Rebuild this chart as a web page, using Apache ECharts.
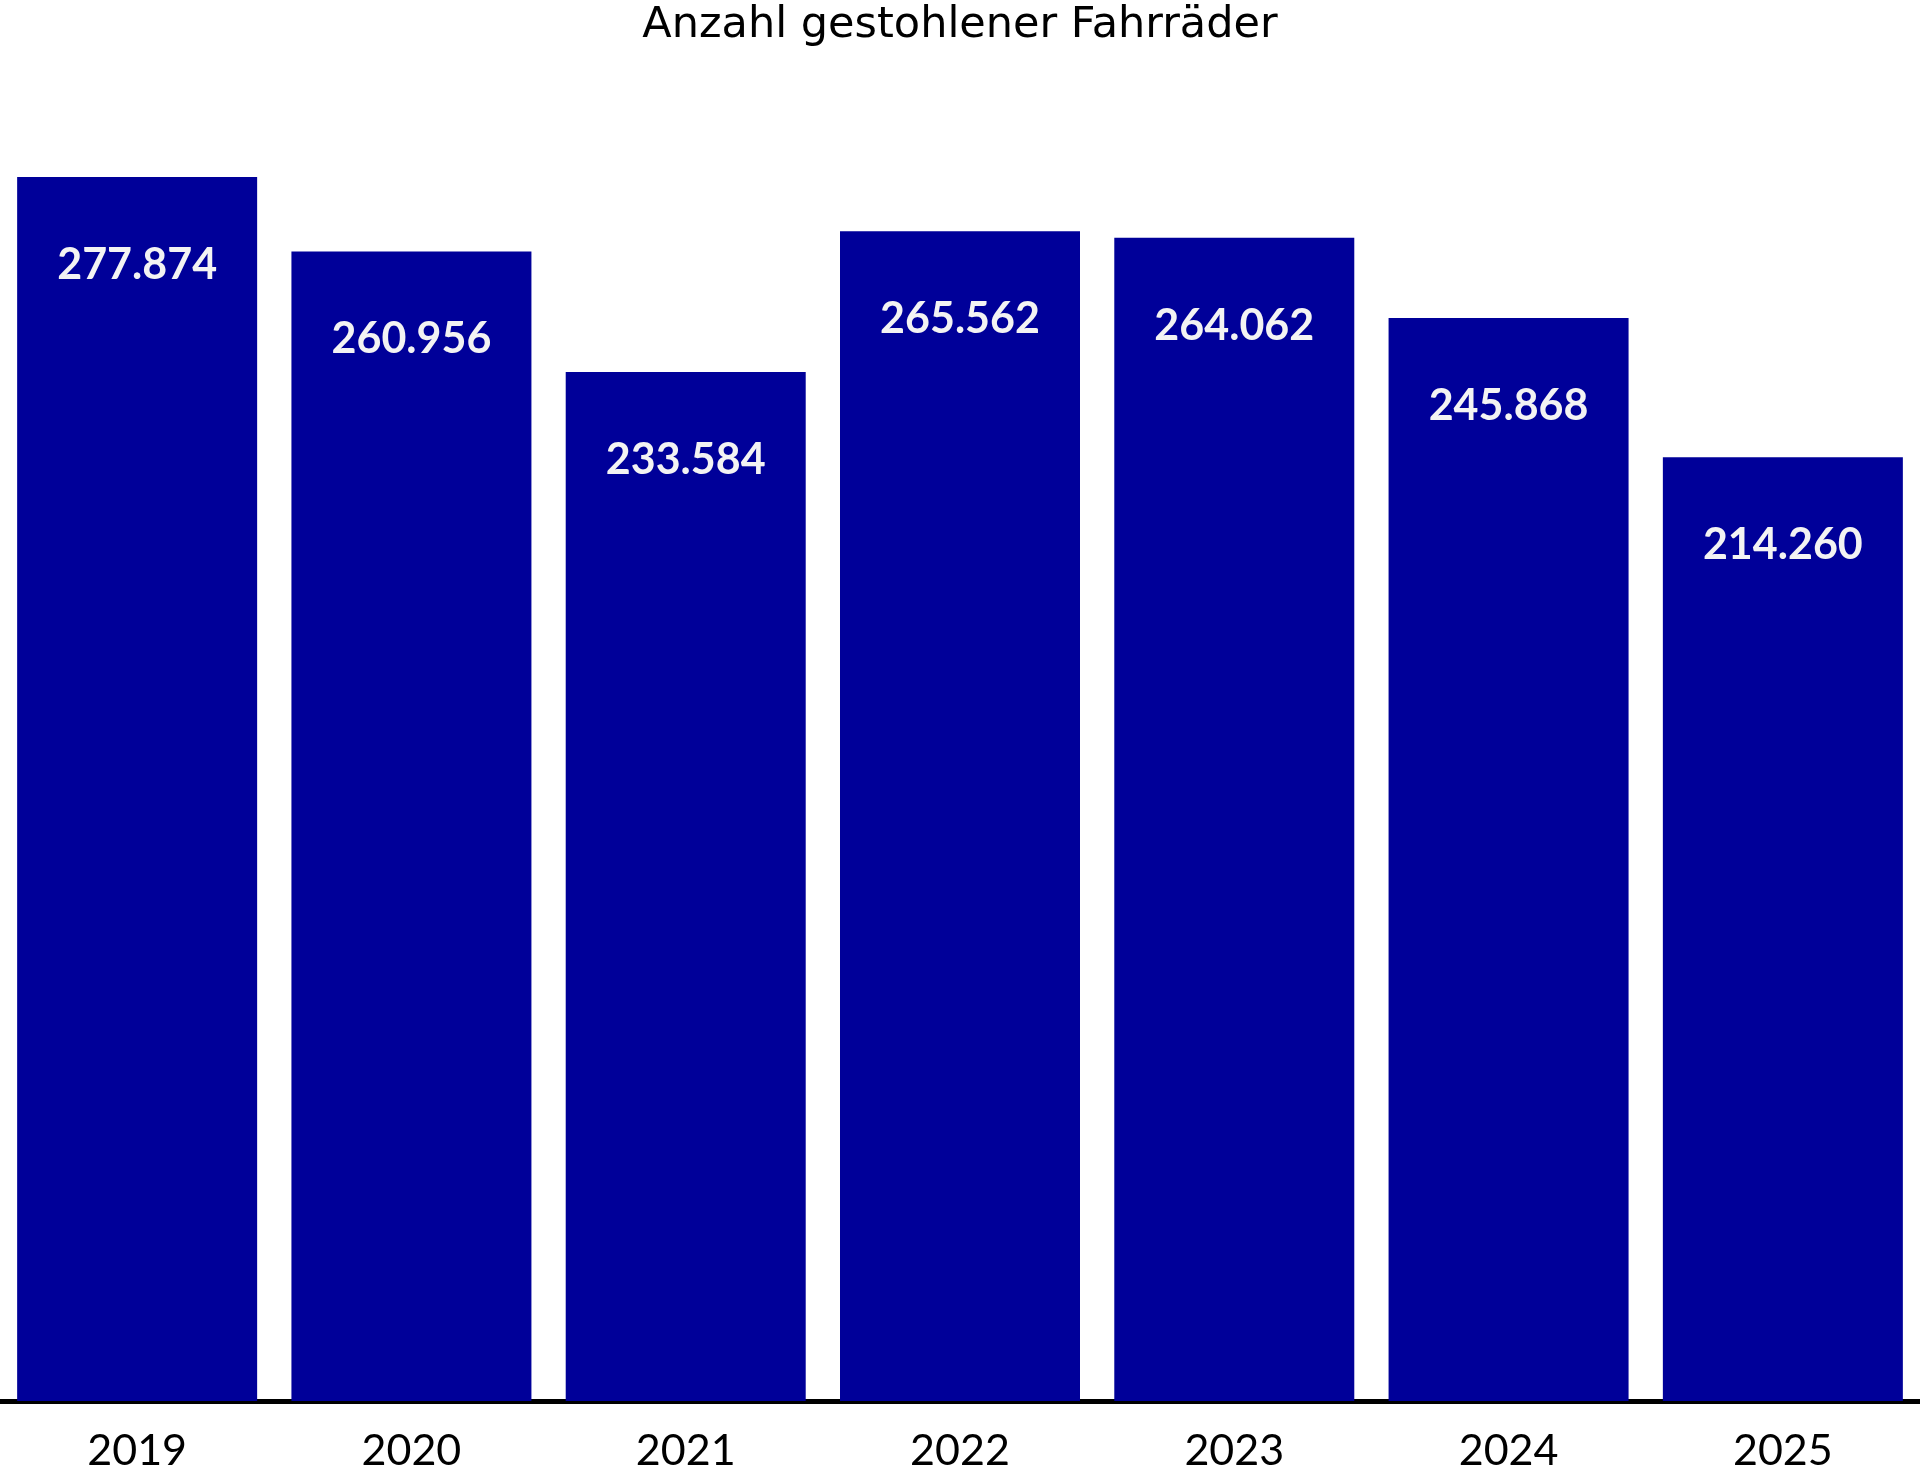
<!DOCTYPE html>
<html>
<head>
<meta charset="utf-8">
<script src="https://cdn.jsdelivr.net/npm/echarts@6/dist/echarts.min.js"></script>
<style>
html,body{margin:0;padding:0;background:#fff;}
#chart{width:1920px;height:1475px;}
</style>
</head>
<body>
<div id="chart"></div>
<script>
const titleText = 'Anzahl gestohlener Fahrräder';
const years = ['2019', '2020', '2021', '2022', '2023', '2024', '2025'];
const stolenBikes = [277874, 260956, 233584, 265562, 264062, 245868, 214260];

function fmt(v) {
  return String(v).replace(/\B(?=(\d{3})+(?!\d))/g, '.');
}

const chart = echarts.init(document.getElementById('chart'), null, {renderer: 'canvas'});
chart.setOption({
  animation: false,
  backgroundColor: '#ffffff',
  title: {
    text: titleText,
    left: 'center',
    top: -1,
    textStyle: {
      fontFamily: 'DejaVu Sans',
      fontWeight: 'normal',
      fontSize: 43,
      color: '#000000'
    }
  },
  grid: {left: 0, right: 0, top: 79.5, bottom: 74, containLabel: false},
  xAxis: {
    type: 'category',
    data: years,
    axisLine: {show: true, lineStyle: {color: '#000000', width: 5}},
    axisTick: {show: false},
    axisLabel: {
      fontFamily: 'Lato',
      fontSize: 43,
      color: '#000000',
      margin: 29
    }
  },
  yAxis: {
    type: 'value',
    min: 0,
    max: 300000,
    show: false,
    splitLine: {show: false}
  },
  series: [{
    type: 'bar',
    data: stolenBikes,
    barWidth: 240,
    itemStyle: {color: '#000099'},
    label: {
      show: true,
      position: ['50%', 88],
      align: 'center',
      verticalAlign: 'middle',
      fontFamily: 'Lato',
      fontWeight: 'bold',
      fontSize: 43,
      color: '#f3f3f3',
      formatter: p => fmt(p.value)
    }
  }]
});
</script>
</body>
</html>
